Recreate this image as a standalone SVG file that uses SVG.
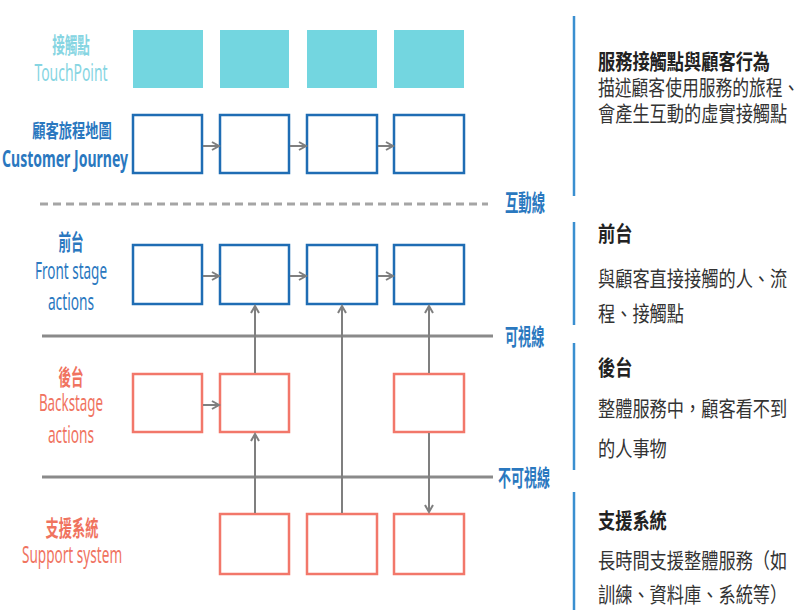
<svg xmlns="http://www.w3.org/2000/svg" width="802" height="610" viewBox="0 0 802 610">
<style>
text{font-family:"Noto Sans CJK TC","Noto Sans",sans-serif}
.tp{fill:#73D6E0}
.bl{fill:#fff;stroke:#1F6DB4;stroke-width:2.5}
.rd{fill:#fff;stroke:#F2776A;stroke-width:2.5}
.conn{stroke:#7F7F7F;stroke-width:2;fill:none}
.lane{stroke:#8A8A8A;stroke-width:3}
.lb{fill:#2A78BF}
.lr{fill:#F0735F}
.lc{fill:#86D5E2}
.zh{font-size:22px;font-weight:bold}
.en{font-size:23px;font-family:"Noto Sans","Open Sans",sans-serif}
.ln{fill:#2A78BF;font-size:23px;font-weight:bold}
.h{fill:#222;font-size:21px;font-weight:bold}
.d{fill:#333;font-size:21px}
.vb{stroke:#3A8FD0;stroke-width:2.5}
</style>
<defs>
<marker id="a" markerUnits="userSpaceOnUse" markerWidth="12" markerHeight="12" refX="8" refY="5" orient="auto">
<path d="M1,1 L8,5 L1,9" fill="none" stroke="#7F7F7F" stroke-width="2"/>
</marker>
</defs>
<g id="lanes">
<line x1="40" y1="204" x2="488" y2="204" stroke="#A5A5A5" stroke-width="3" stroke-dasharray="8,5"/>
<line class="lane" x1="42" y1="336" x2="493" y2="336"/>
<line class="lane" x1="42" y1="477" x2="493" y2="477"/>
<text class="ln" transform="translate(505,211) scale(0.58,1)">互動線</text>
<text class="ln" transform="translate(505,345) scale(0.57,1)">可視線</text>
<text class="ln" transform="translate(498,486) scale(0.565,1)">不可視線</text>
</g>
<g id="labels">
<text class="lc zh" text-anchor="middle" transform="translate(71,53) scale(0.57,1)">接觸點</text>
<text class="lc en" text-anchor="middle" transform="translate(71,81) scale(0.6,1)" textLength="122" lengthAdjust="spacingAndGlyphs">TouchPoint</text>
<text class="lb zh" text-anchor="middle" style="font-size:19px" transform="translate(72,138) scale(0.7,1)">顧客旅程地圖</text>
<text class="lb en" text-anchor="middle" font-weight="bold" fill="#2470B8" transform="translate(65,167) scale(0.6,1)" textLength="210" lengthAdjust="spacingAndGlyphs">Customer Journey</text>
<text class="lb zh" text-anchor="middle" transform="translate(71,250) scale(0.57,1)">前台</text>
<text class="lb en" text-anchor="middle" transform="translate(71,279) scale(0.6,1)" textLength="120" lengthAdjust="spacingAndGlyphs">Front stage</text>
<text class="lb en" text-anchor="middle" transform="translate(71,310) scale(0.6,1)" textLength="77" lengthAdjust="spacingAndGlyphs">actions</text>
<text class="lr zh" text-anchor="middle" transform="translate(71,385) scale(0.57,1)">後台</text>
<text class="lr en" text-anchor="middle" transform="translate(71,411) scale(0.6,1)" textLength="107" lengthAdjust="spacingAndGlyphs">Backstage</text>
<text class="lr en" text-anchor="middle" transform="translate(71,443) scale(0.6,1)" textLength="77" lengthAdjust="spacingAndGlyphs">actions</text>
<text class="lr zh" text-anchor="middle" transform="translate(72,536) scale(0.6,1)">支援系統</text>
<text class="lr en" text-anchor="middle" transform="translate(72,563) scale(0.6,1)" textLength="167" lengthAdjust="spacingAndGlyphs">Support system</text>
</g>
<g id="touchpoints">
<rect class="tp" x="133" y="30" width="70" height="58"/>
<rect class="tp" x="220" y="30" width="69" height="58"/>
<rect class="tp" x="307" y="30" width="70" height="58"/>
<rect class="tp" x="394" y="30" width="70" height="58"/>
</g>
<g id="journey">
<rect class="bl" x="133" y="115" width="69" height="58"/>
<rect class="bl" x="220" y="115" width="69" height="58"/>
<rect class="bl" x="307" y="115" width="70" height="58"/>
<rect class="bl" x="394" y="115" width="70" height="58"/>
</g>
<g id="front">
<rect class="bl" x="133" y="245" width="69" height="59"/>
<rect class="bl" x="220" y="245" width="69" height="59"/>
<rect class="bl" x="307" y="245" width="70" height="59"/>
<rect class="bl" x="394" y="245" width="70" height="59"/>
</g>
<g id="back">
<rect class="rd" x="133" y="374" width="69" height="58"/>
<rect class="rd" x="220" y="374" width="69" height="58"/>
<rect class="rd" x="394" y="374" width="70" height="58"/>
</g>
<g id="support">
<rect class="rd" x="220" y="514" width="69" height="60"/>
<rect class="rd" x="307" y="514" width="70" height="60"/>
<rect class="rd" x="394" y="514" width="70" height="60"/>
</g>
<g id="connectors">
<line class="conn" x1="203" y1="146" x2="219" y2="146" marker-end="url(#a)"/>
<line class="conn" x1="290" y1="146" x2="306" y2="146" marker-end="url(#a)"/>
<line class="conn" x1="378" y1="146" x2="393" y2="146" marker-end="url(#a)"/>
<line class="conn" x1="203" y1="276" x2="219" y2="276" marker-end="url(#a)"/>
<line class="conn" x1="290" y1="276" x2="306" y2="276" marker-end="url(#a)"/>
<line class="conn" x1="378" y1="276" x2="393" y2="276" marker-end="url(#a)"/>
<line class="conn" x1="203" y1="405" x2="219" y2="405" marker-end="url(#a)"/>
<line class="conn" x1="255" y1="373" x2="255" y2="306" marker-end="url(#a)"/>
<line class="conn" x1="255" y1="513" x2="255" y2="434" marker-end="url(#a)"/>
<line class="conn" x1="342" y1="513" x2="342" y2="306" marker-end="url(#a)"/>
<line class="conn" x1="429" y1="373" x2="429" y2="306" marker-end="url(#a)"/>
<line class="conn" x1="429" y1="433" x2="429" y2="512" marker-end="url(#a)"/>
</g>
<g id="notes">
<line class="vb" x1="574" y1="16" x2="574" y2="196"/>
<line class="vb" x1="574" y1="222" x2="574" y2="325"/>
<line class="vb" x1="574" y1="343" x2="574" y2="470"/>
<line class="vb" x1="574" y1="492" x2="574" y2="610"/>
<text class="h" transform="translate(598,69) scale(0.82,1)">服務接觸點與顧客行為</text>
<text class="d" transform="translate(598,95) scale(0.8,1)">描述顧客使用服務的旅程、</text>
<text class="d" transform="translate(598,121) scale(0.82,1)">會產生互動的虛實接觸點</text>
<text class="h" transform="translate(598,241) scale(0.82,1)">前台</text>
<text class="d" transform="translate(598,286) scale(0.82,1)">與顧客直接接觸的人、流</text>
<text class="d" transform="translate(598,321) scale(0.82,1)">程、接觸點</text>
<text class="h" transform="translate(598,375) scale(0.82,1)">後台</text>
<text class="d" transform="translate(598,416) scale(0.82,1)">整體服務中，顧客看不到</text>
<text class="d" transform="translate(598,456) scale(0.82,1)">的人事物</text>
<text class="h" transform="translate(598,528) scale(0.82,1)">支援系統</text>
<text class="d" transform="translate(598,568) scale(0.82,1)">長時間支援整體服務（如</text>
<text class="d" transform="translate(598,602) scale(0.82,1)">訓練、資料庫、系統等）</text>
</g>
</svg>
